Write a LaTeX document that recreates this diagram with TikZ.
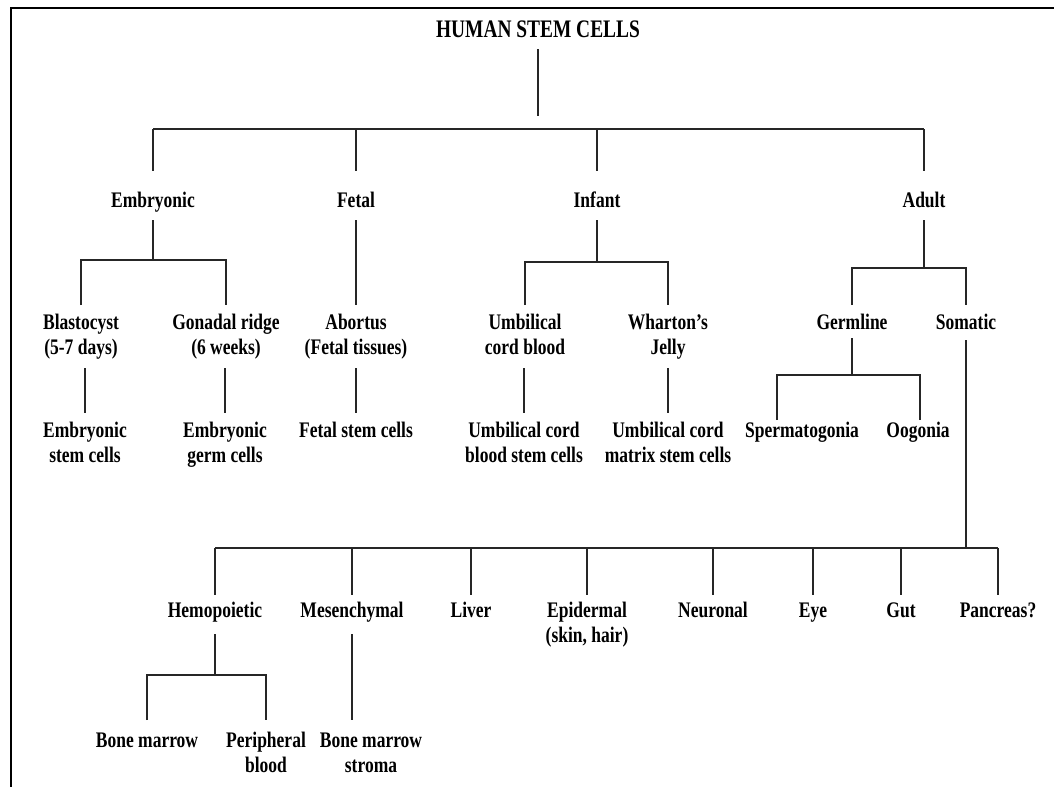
\documentclass[tikz,border=0pt]{standalone}
\usepackage{fontspec}
\setmainfont{Liberation Serif}
\usepackage{graphicx}
\newcommand\tx[1]{\scalebox{1}[1.27]{\begin{tabular}[t]{@{}c@{}}#1\end{tabular}}}
\begin{document}
\begin{tikzpicture}[x=1pt,y=-1pt,
  lbl/.style={inner sep=0pt,anchor=base,font=\fontsize{17.5}{20}\selectfont\bfseries},
  ttl/.style={inner sep=0pt,anchor=base,font=\fontsize{19.4}{22}\selectfont\bfseries},
  conn/.style={draw=black!85,line width=1.3pt},
  frame/.style={draw=black,line width=2pt}]
\useasboundingbox (0,0) rectangle (1054,787);
% frame
\coordinate (fa) at (10,8);
\coordinate (fb) at (1054,8);
\coordinate (fc) at (11,787);
\draw[frame] (fb) -- (fa -| fc) -- (fc);
% nodes
\node[ttl] (title) at (538,37) {\scalebox{1}[1.3]{HUMAN STEM CELLS}};
\node[lbl] (emb) at (153,207) {\tx{Embryonic}};
\node[lbl] (fet) at (356,207) {\tx{Fetal}};
\node[lbl] (inf) at (597,207) {\tx{Infant}};
\node[lbl] (adu) at (924,207) {\tx{Adult}};
\node[lbl] (blast) at (81,329) {\tx{Blastocyst\\(5-7 days)}};
\node[lbl] (gon) at (226,329) {\tx{Gonadal ridge\\(6 weeks)}};
\node[lbl] (abo) at (356,329) {\tx{Abortus\\(Fetal tissues)}};
\node[lbl] (umb) at (525,329) {\tx{Umbilical\\cord blood}};
\node[lbl] (wha) at (668,329) {\tx{Wharton’s\\Jelly}};
\node[lbl] (germ) at (852,329) {\tx{Germline}};
\node[lbl] (som) at (966,329) {\tx{Somatic}};
\node[lbl] (esc) at (85,437) {\tx{Embryonic\\stem cells}};
\node[lbl] (egc) at (225,437) {\tx{Embryonic\\germ cells}};
\node[lbl] (fsc) at (356,437) {\tx{Fetal stem cells}};
\node[lbl] (ucb) at (524,437) {\tx{Umbilical cord\\blood stem cells}};
\node[lbl] (ucm) at (668,437) {\tx{Umbilical cord\\matrix stem cells}};
\node[lbl] (sper) at (802,437) {\tx{Spermatogonia}};
\node[lbl] (oog) at (918,437) {\tx{Oogonia}};
\node[lbl] (hemo) at (215,617) {\tx{Hemopoietic}};
\node[lbl] (mes) at (352,617) {\tx{Mesenchymal}};
\node[lbl] (liv) at (471,617) {\tx{Liver}};
\node[lbl] (epi) at (587,617) {\tx{Epidermal\\(skin, hair)}};
\node[lbl] (neu) at (713,617) {\tx{Neuronal}};
\node[lbl] (eye) at (813,617) {\tx{Eye}};
\node[lbl] (gut) at (901,617) {\tx{Gut}};
\node[lbl] (pan) at (998,617) {\tx{Pancreas?}};
\node[lbl] (bm) at (147,747) {\tx{Bone marrow}};
\node[lbl] (pb) at (266,747) {\tx{Peripheral\\blood}};
\node[lbl] (bms) at (371,747) {\tx{Bone marrow\\stroma}};
% level 0
\draw[conn] (title |- 0,49) -- (title |- 0,116);
\draw[conn] (emb |- 0,129) -- (adu |- 0,129);
\foreach \n in {emb,fet,inf,adu}{\draw[conn] (\n |- 0,129) -- (\n |- 0,171);}
% embryonic
\draw[conn] (emb |- 0,220) -- (emb |- 0,260);
\draw[conn] (blast |- 0,305) -- (blast |- 0,260) -- (gon |- 0,260) -- (gon |- 0,305);
\draw[conn] (esc |- 0,368) -- (esc |- 0,413);
\draw[conn] (egc |- 0,368) -- (egc |- 0,413);
% fetal
\draw[conn] (fet |- 0,220) -- (abo |- 0,305);
\draw[conn] (fsc |- 0,368) -- (fsc |- 0,413);
% infant
\draw[conn] (inf |- 0,220) -- (inf |- 0,262);
\draw[conn] (umb |- 0,305) -- (umb |- 0,262) -- (wha |- 0,262) -- (wha |- 0,305);
\draw[conn] (ucb |- 0,368) -- (ucb |- 0,413);
\draw[conn] (ucm |- 0,368) -- (ucm |- 0,413);
% adult
\draw[conn] (adu |- 0,220) -- (adu |- 0,268);
\draw[conn] (germ |- 0,305) -- (germ |- 0,268) -- (som |- 0,268) -- (som |- 0,305);
\coordinate (gl) at (777,375);
\coordinate (gr) at (920,375);
\draw[conn] (germ |- 0,338) -- (germ |- gl);
\draw[conn] (gl |- 0,420) -- (gl) -- (gr) -- (gr |- 0,420);
% somatic
\draw[conn] (som |- 0,340) -- (som |- 0,548);
\draw[conn] (hemo |- 0,548) -- (pan |- 0,548);
\foreach \n in {hemo,mes,liv,epi,neu,eye,gut,pan}{\draw[conn] (\n |- 0,548) -- (\n |- 0,595);}
% hemopoietic
\draw[conn] (hemo |- 0,634) -- (hemo |- 0,675);
\draw[conn] (bm |- 0,720) -- (bm |- 0,675) -- (pb |- 0,675) -- (pb |- 0,720);
% mesenchymal
\draw[conn] (mes |- 0,634) -- (mes |- 0,720);
\end{tikzpicture}
\end{document}
